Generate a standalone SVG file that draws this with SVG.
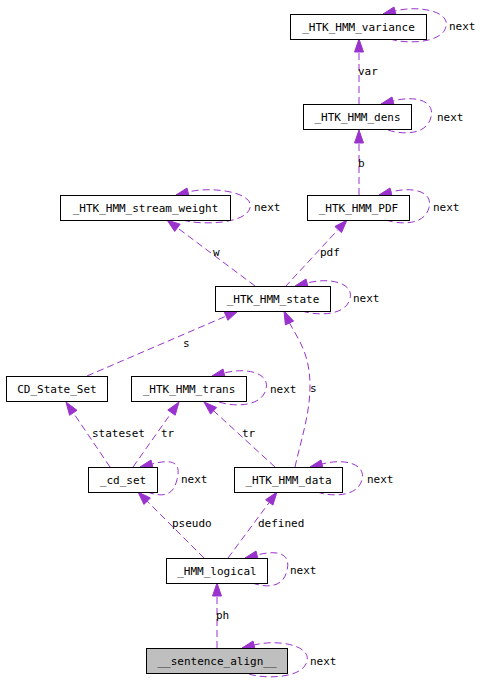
<svg xmlns="http://www.w3.org/2000/svg" width="483" height="687" viewBox="0 0 483 687">
<style>
.n rect{fill:#fff;stroke:#000;stroke-width:1}
.n.g rect{fill:#bfbfbf}
text{font-family:"DejaVu Sans Mono","Liberation Mono",monospace;font-size:11px;fill:#000}
.n text{text-anchor:middle}
.e path,.e line{fill:none;stroke:#9a32cd;stroke-width:1;stroke-dasharray:7,4}
.e polygon{fill:#9a32cd;stroke:#9a32cd;stroke-width:1}
</style>
<rect width="483" height="687" fill="#fff"/>
<g id="connectors" class="e">
<!-- self loops -->
<path d="M390,39 C405,44 442,44 446,26.5 C450,11 418,5 395,11"/><polygon points="383,14 394,7 396,15"/>
<path d="M388,130 C403,135 427,135 431,117 C435,101 416,95 393,101"/><polygon points="381,104 392,97 394,105"/>
<path d="M386,220 C401,225 425,225 429,207.5 C433,192 414,186 391,192"/><polygon points="379,195 390,188 392,196"/>
<path d="M183,220 C198,225 246,225 250,207.5 C254,192 211,186 188,192"/><polygon points="176,195 187,188 189,196"/>
<path d="M302,311 C317,316 346,316 350,298.5 C354,283 330,277 307,283"/><polygon points="295,286 306,279 308,287"/>
<path d="M219,402 C234,407 262,407 266,389 C270,373 247,367 224,373"/><polygon points="212,376 223,369 225,377"/>
<path d="M147,492 C162,497 173,497 177,479.5 C181,464 175,458 152,464"/><polygon points="140,467 151,460 153,468"/>
<path d="M317,492 C332,497 358,497 362,479.5 C366,464 345,458 322,464"/><polygon points="310,467 321,460 323,468"/>
<path d="M252,583 C267,588 283,588 287,570.5 C291,555 280,549 257,555"/><polygon points="245,558 256,551 258,559"/>
<path d="M249,674 C264,679 303,679 307,661 C311,645 277,639 254,645"/><polygon points="242,648 253,641 255,649"/>
<!-- edges -->
<line x1="359" y1="104" x2="359" y2="52"/><polygon points="359,39 354.5,52 363.5,52"/>
<line x1="359" y1="195" x2="359" y2="143"/><polygon points="359,130 354.5,143 363.5,143"/>
<line x1="255" y1="286" x2="177.4" y2="227.8"/><polygon points="167,220 174.7,231.4 180.1,224.2"/>
<line x1="285" y1="287" x2="338.2" y2="229.5"/><polygon points="347,220 341.5,232.6 334.9,226.5"/>
<line x1="87" y1="376" x2="226.1" y2="316.1"/><polygon points="238,311 224.3,312 227.9,320.3"/>
<path d="M295,467 C302,435 315,400 308,365 C305,348 296,335 289.5,323"/><polygon points="284,311 293.6,321.1 285.4,324.9"/>
<line x1="110" y1="467" x2="73.3" y2="412.8"/><polygon points="66,402 69.6,415.3 77,410.3"/>
<line x1="133" y1="467" x2="171.5" y2="412.6"/><polygon points="179,402 167.8,410 175.2,415.2"/>
<line x1="275" y1="467" x2="213.6" y2="410.8"/><polygon points="204,402 210.6,414.1 216.6,407.5"/>
<line x1="204" y1="558" x2="147.2" y2="501.2"/><polygon points="138,492 144,504.4 150.4,498"/>
<line x1="228" y1="558" x2="269.3" y2="502.4"/><polygon points="277,492 265.6,499.7 272.9,505.1"/>
<line x1="217" y1="648" x2="217" y2="596"/><polygon points="217,583 212.5,596 221.5,596"/>
</g>
<g id="labels">
<text x="449" y="30">next</text>
<text x="437" y="121">next</text>
<text x="433" y="211">next</text>
<text x="254" y="211">next</text>
<text x="353" y="302">next</text>
<text x="270" y="393">next</text>
<text x="181" y="483">next</text>
<text x="367" y="483">next</text>
<text x="290" y="574">next</text>
<text x="310" y="665">next</text>
<text x="358" y="75">var</text>
<text x="358" y="167">b</text>
<text x="213" y="256">w</text>
<text x="320" y="256">pdf</text>
<text x="183" y="347">s</text>
<text x="310" y="392">s</text>
<text x="92" y="437">stateset</text>
<text x="161" y="437">tr</text>
<text x="242" y="437">tr</text>
<text x="172" y="527">pseudo</text>
<text x="258" y="527">defined</text>
<text x="216" y="619">ph</text>
</g>
<g id="n_variance" class="n"><rect x="290.5" y="14.5" width="136" height="25"/><text x="358.5" y="31">_HTK_HMM_variance</text></g>
<g id="n_dens" class="n"><rect x="303.5" y="104.5" width="108" height="25"/><text x="357.5" y="121">_HTK_HMM_dens</text></g>
<g id="n_pdf" class="n"><rect x="307.5" y="195.5" width="102" height="25"/><text x="358.5" y="212">_HTK_HMM_PDF</text></g>
<g id="n_stream_weight" class="n"><rect x="60.5" y="195.5" width="170" height="25"/><text x="145.5" y="212">_HTK_HMM_stream_weight</text></g>
<g id="n_state" class="n"><rect x="215.5" y="286.5" width="115" height="25"/><text x="273" y="303">_HTK_HMM_state</text></g>
<g id="n_cd_state_set" class="n"><rect x="6.5" y="376.5" width="101" height="25"/><text x="57" y="393">CD_State_Set</text></g>
<g id="n_trans" class="n"><rect x="131.5" y="376.5" width="115" height="25"/><text x="189" y="393">_HTK_HMM_trans</text></g>
<g id="n_cd_set" class="n"><rect x="88.5" y="467.5" width="69" height="25"/><text x="123" y="484">_cd_set</text></g>
<g id="n_data" class="n"><rect x="234.5" y="467.5" width="108" height="25"/><text x="288.5" y="484">_HTK_HMM_data</text></g>
<g id="n_logical" class="n"><rect x="166.5" y="558.5" width="101" height="25"/><text x="217" y="575">_HMM_logical</text></g>
<g id="n_sentence_align" class="n g"><rect x="146.5" y="648.5" width="141" height="25"/><text x="217" y="665">__sentence_align__</text></g>
</svg>
